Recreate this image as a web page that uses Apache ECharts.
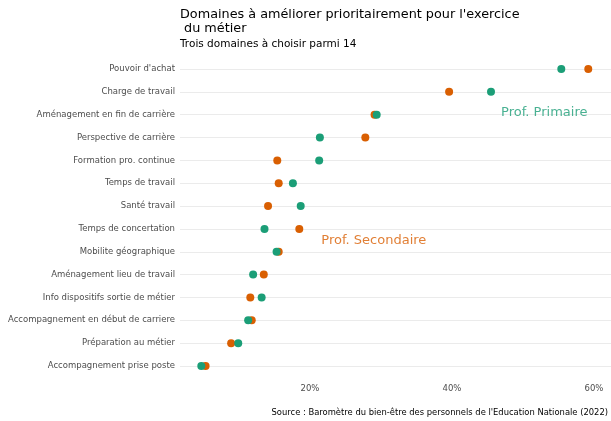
<!DOCTYPE html>
<html><head><meta charset="utf-8">
<script src="https://cdn.jsdelivr.net/npm/echarts@6/dist/echarts.min.js"></script>
<style>html,body{margin:0;padding:0;background:#fff}#c{width:611px;height:421px}</style>
</head><body><div id="c"></div>
<script>
const categories = ["Pouvoir d'achat","Charge de travail","Aménagement en fin de carrière","Perspective de carrière","Formation pro. continue","Temps de travail","Santé travail","Temps de concertation","Mobilite géographique","Aménagement lieu de travail","Info dispositifs sortie de métier","Accompagnement en début de carriere","Préparation au métier","Accompagnement prise poste"];
const primaire = [55.4,45.5,29.4,21.4,21.3,17.6,18.7,13.6,15.3,12.0,13.2,11.3,9.9,4.7];
const secondaire = [59.2,39.6,29.1,27.8,15.4,15.6,14.1,18.5,15.6,13.5,11.6,11.8,8.9,5.3];
const xTicks = [20,40,60];
const annotations = [
  {name:'Prof. Primaire', x:53.0, cat:"Aménagement en fin de carrière", color:'#1b9e77', dy:-2},
  {name:'Prof. Secondaire', x:29.0, cat:"Mobilite géographique", color:'#d95f02', dy:-11}
];
const titleText = "Domaines à améliorer prioritairement pour l'exercice\n du métier";
const subtitleText = "Trois domaines à choisir parmi 14";
const sourceText = "Source : Baromètre du bien-être des personnels de l'Education Nationale (2022)";

const font = 'DejaVu Sans';
const chart = echarts.init(document.getElementById('c'), null, {renderer:'canvas'});
chart.setOption({
  animation:false,
  title:[
    {text:titleText, left:180, top:8, padding:0, textStyle:{fontFamily:font, fontSize:12.8, fontWeight:'normal', color:'#000', lineHeight:14}},
    {text:subtitleText, left:180, top:39, padding:0, textStyle:{fontFamily:font, fontSize:10.5, fontWeight:'normal', color:'#000'}},
    {text:sourceText, right:3, bottom:4, padding:0, textStyle:{fontFamily:font, fontSize:8.4, fontWeight:'normal', color:'#000'}}
  ],
  grid:{left:180, right:0, top:57.6, bottom:43.6, containLabel:false, outerBoundsMode:'none'},
  xAxis:{type:'value', min:1.7, max:62.4,
    axisLine:{show:false}, axisTick:{show:false}, splitLine:{show:false},
    axisLabel:{customValues:xTicks, formatter:'{value}%', fontFamily:font, fontSize:8.5, color:'#4d4d4d', margin:7}},
  yAxis:{type:'category', data:categories, inverse:true,
    axisLine:{show:false}, axisTick:{show:false}, splitLine:{show:false},
    axisLabel:{fontFamily:font, fontSize:8.5, color:'#4d4d4d', margin:5}},
  series:[
    {type:'scatter', name:'grid', data:[], silent:true, z:0,
      markLine:{silent:true, symbol:['none','none'], label:{show:false}, z:0,
        lineStyle:{color:'#ebebeb', width:1, type:'solid'},
        data:categories.map(c=>({yAxis:c}))}},
    {type:'scatter', name:'Prof. Secondaire', symbolSize:8, itemStyle:{color:'#d95f02', opacity:1},
      data:categories.map((c,i)=>[secondaire[i], c]), z:3},
    {type:'scatter', name:'Prof. Primaire', symbolSize:8, itemStyle:{color:'#1b9e77', opacity:1},
      data:categories.map((c,i)=>[primaire[i], c]), z:4},
    {type:'scatter', name:'annot', symbolSize:0, silent:true, z:5,
      data:annotations.map(a=>({value:[a.x, a.cat], label:{show:true, position:'inside', offset:[0,a.dy], formatter:a.name, color:a.color, fontFamily:font, fontSize:13}}))}
  ]
});
</script></body></html>
